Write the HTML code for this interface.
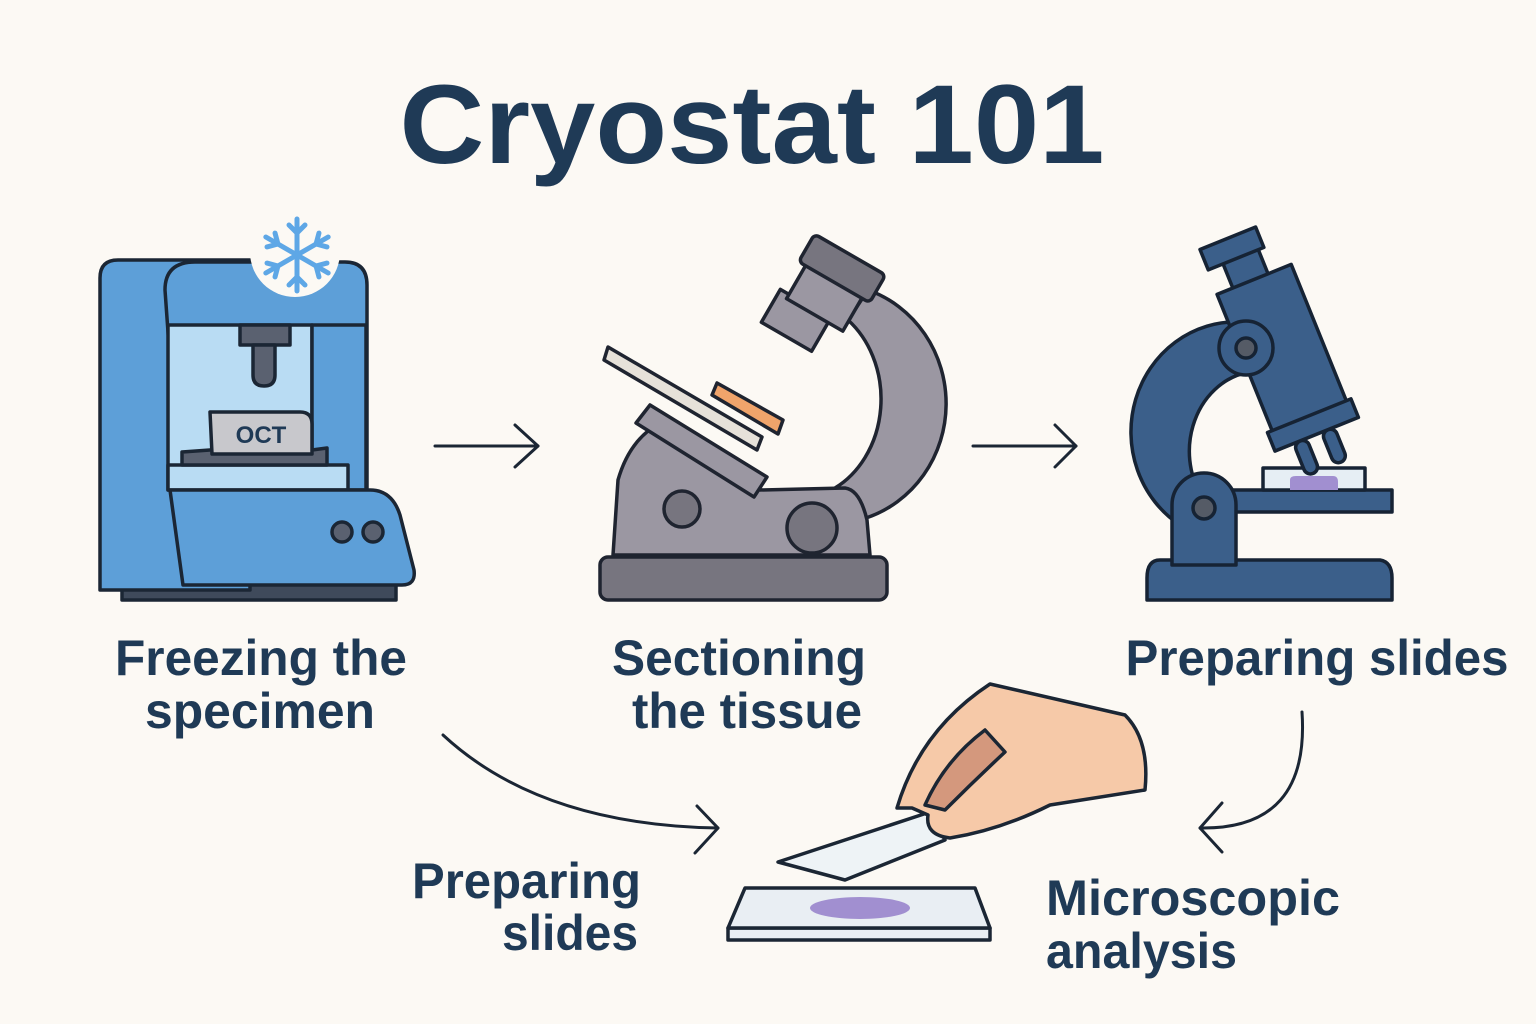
<!DOCTYPE html>
<html><head><meta charset="utf-8"><style>
html,body{margin:0;padding:0;background:#fcf9f4;}
svg{display:block}
text{font-family:"Liberation Sans",sans-serif;font-weight:bold;fill:#1f3a56}
</style></head><body>
<svg width="1536" height="1024" viewBox="0 0 1536 1024" xmlns="http://www.w3.org/2000/svg">
<rect width="1536" height="1024" fill="#fcf9f4"/>
<text x="752" y="163" font-size="112" text-anchor="middle" fill="#1b2e44" textLength="705" lengthAdjust="spacingAndGlyphs">Cryostat 101</text>

<!-- Machine 1 -->
<g stroke="#1b2634" stroke-width="3.5" stroke-linejoin="round">
<rect x="122" y="580" width="274" height="20" fill="#3f4a5b"/>
<path d="M100 278 Q100 260 118 260 L250 260 L250 590 L100 590 Z" fill="#5d9fd8"/>
<path d="M165 290 Q165 262 195 262 L345 262 Q367 262 367 285 L367 500 L180 500 Z" fill="#5d9fd8"/>
<rect x="168" y="325" width="144" height="165" fill="#b9dcf3"/>
<rect x="312" y="325" width="54" height="165" fill="#5d9fd8"/>
<rect x="240" y="325" width="50" height="20" fill="#5a6170"/>
<path d="M253 345 L275 345 L275 375 Q275 386 264 386 Q253 386 253 375 Z" fill="#5a6170"/>
<rect x="168" y="465" width="180" height="25" fill="#b9dcf3"/>
<path d="M182 452 L210 450 L312 450 L327 448 L327 465 L182 465 Z" fill="#5a6170"/>
<path d="M210 412 L300 412 Q312 412 312 424 L312 454 L212 454 Z" fill="#c8c8cc"/>
<path d="M170 490 L370 490 Q392 490 400 515 L414 570 Q416 585 402 585 L183 585 Z" fill="#5d9fd8"/>
<circle cx="342" cy="532" r="10" fill="#5a6170"/>
<circle cx="373" cy="532" r="10" fill="#5a6170"/>
</g>
<text x="261" y="443" font-size="24" text-anchor="middle" fill="#1b2634">OCT</text>
<circle cx="295" cy="252" r="45" fill="#fcf9f4"/>
<g stroke="#5ea7e6" stroke-width="5" stroke-linecap="round" fill="none" transform="translate(297,255)">
<g id="arm"><line x1="0" y1="0" x2="0" y2="-36"/><line x1="0" y1="-22" x2="-8" y2="-30"/><line x1="0" y1="-22" x2="8" y2="-30"/></g>
<use href="#arm" transform="rotate(60)"/><use href="#arm" transform="rotate(120)"/><use href="#arm" transform="rotate(180)"/><use href="#arm" transform="rotate(240)"/><use href="#arm" transform="rotate(300)"/>
</g>

<!-- Microscope 2 (gray) -->
<g stroke="#1f2430" stroke-width="3.5" stroke-linejoin="round" fill="#9b97a2">
<path d="M835 488 A85 100 0 0 0 848 320 L868 290 A115 120 0 0 1 866 518 Z"/>
<path d="M613 555 L618 480 Q628 445 652 428 L760 490 L845 488 Q860 490 867 520 L870 555 Z"/>
<rect x="600" y="557" width="287" height="43" rx="8" fill="#77757f"/>
<circle cx="682" cy="509" r="18" fill="#77757f"/>
<circle cx="812" cy="528" r="25" fill="#77757f"/>
<g transform="translate(810,318) rotate(30)"><rect x="-40" y="-10" width="58" height="38" fill="#9b97a2"/><rect x="-30" y="-45" width="65" height="40" fill="#9b97a2"/><rect x="-38" y="-75" width="82" height="32" rx="5" fill="#77757f"/></g>
<path d="M650 405 L767 477 L754 497 L636 423 Z" fill="#9b97a2"/>
<path d="M608 347 L762 437 L757 450 L604 360 Z" fill="#e6e1d9"/>
<path d="M717 383 L783 420 L778 434 L712 395 Z" fill="#f0a46b"/>
</g>

<!-- Microscope 3 (blue) -->
<g stroke="#162334" stroke-width="3.5" stroke-linejoin="round" fill="#3b5f8a">
<path d="M1240 322 A105 110 0 0 0 1180 525 L1210 508 A70 80 0 0 1 1250 372 Z"/>
<path d="M1160 560 L1380 560 Q1392 562 1392 578 L1392 600 L1147 600 L1147 578 Q1147 560 1160 560 Z"/>
<rect x="1225" y="490" width="167" height="22" fill="#3b5f8a"/>
<path d="M1172 565 L1172 505 A32 32 0 0 1 1236 505 L1236 565 Z"/>
<circle cx="1204" cy="508" r="11" fill="#555b66"/>
<rect x="1263" y="468" width="102" height="22" fill="#e6eef4"/>
<path d="M1290 490 L1290 480 Q1290 476 1296 476 L1333 476 Q1338 476 1338 482 L1338 490 Z" fill="#a18fd0" stroke="none"/>
<g transform="translate(1282,335) rotate(-22)">
<rect x="-28" y="-90" width="38" height="30"/>
<rect x="-44" y="-110" width="60" height="22"/>
<rect x="-30" y="105" width="14" height="35" rx="7"/>
<rect x="0" y="105" width="14" height="35" rx="7"/>
<rect x="-45" y="-62" width="80" height="150"/>
<rect x="-50" y="85" width="90" height="20"/>
</g>
<circle cx="1246" cy="348" r="27"/>
<circle cx="1246" cy="348" r="10" fill="#555b66"/>
</g>

<!-- arrows -->
<g stroke="#1b2634" stroke-width="3" fill="none" stroke-linecap="round" stroke-linejoin="round">
<line x1="435" y1="446" x2="538" y2="446"/><polyline points="515,425 538,446 515,467"/>
<line x1="973" y1="446" x2="1076" y2="446"/><polyline points="1055,425 1076,446 1055,467"/>
<path d="M443 735 Q540 825 718 828"/><polyline points="697,806 718,828 695,853"/>
<path d="M1302 712 Q1310 830 1200 828"/><polyline points="1222,803 1200,828 1222,852"/>
</g>

<!-- slide + hand -->
<g stroke="#1b2634" stroke-width="3.5" stroke-linejoin="round">
<path d="M728 928 L990 928 L990 940 L728 940 Z" fill="#e9eef3"/>
<path d="M745 888 L975 888 L990 928 L728 928 Z" fill="#e9eef3"/>
<path d="M778 862 L930 812 L945 840 L845 880 Z" fill="#eef3f6"/>
<path d="M897 808 Q920 730 990 684 L1125 715 Q1150 740 1145 790 L1050 805 Q1000 830 950 838 Q925 835 928 815 L912 808 Z" fill="#f6c9a8"/>
<path d="M925 805 Q945 760 985 730 L1005 752 Q975 780 945 810 Z" fill="#d4987d"/>
</g>
<ellipse cx="860" cy="908" rx="50" ry="11" fill="#a18fd0"/>

<!-- labels -->
<g font-size="50">
<text x="261" y="675" text-anchor="middle" textLength="292" lengthAdjust="spacingAndGlyphs">Freezing the</text>
<text x="260" y="728" text-anchor="middle" textLength="230" lengthAdjust="spacingAndGlyphs">specimen</text>
<text x="739" y="675" text-anchor="middle" textLength="254" lengthAdjust="spacingAndGlyphs">Sectioning</text>
<text x="747" y="728" text-anchor="middle" textLength="230" lengthAdjust="spacingAndGlyphs">the tissue</text>
<text x="1317" y="675" text-anchor="middle" textLength="383" lengthAdjust="spacingAndGlyphs">Preparing slides</text>
<text x="641" y="898" text-anchor="end" textLength="229" lengthAdjust="spacingAndGlyphs">Preparing</text>
<text x="638" y="950" text-anchor="end" textLength="136" lengthAdjust="spacingAndGlyphs">slides</text>
<text x="1046" y="915" textLength="294" lengthAdjust="spacingAndGlyphs">Microscopic</text>
<text x="1046" y="968" textLength="191" lengthAdjust="spacingAndGlyphs">analysis</text>
</g>
</svg>
</body></html>
